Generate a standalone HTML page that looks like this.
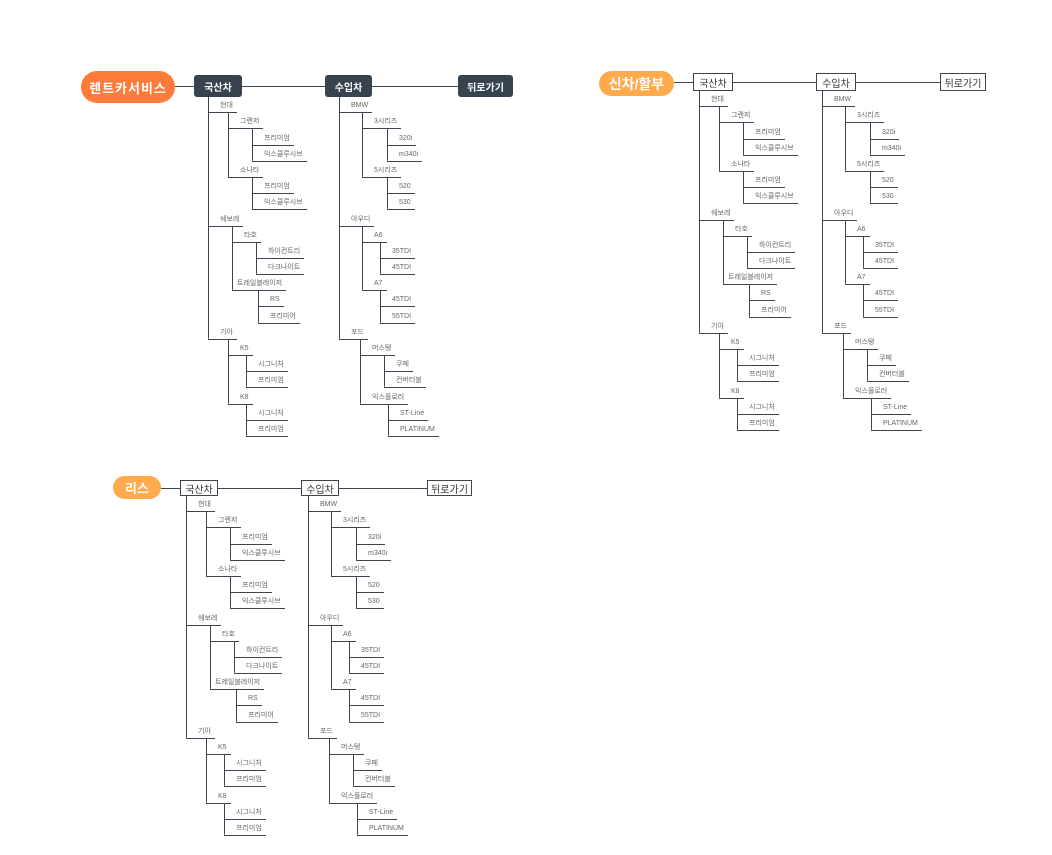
<!DOCTYPE html>
<html><head><meta charset="utf-8">
<style>
body{margin:0;width:1052px;height:855px;background:#fff;position:relative;overflow:hidden;font-family:"Liberation Sans","Noto Sans CJK KR",sans-serif;}
.hl{position:absolute;height:0;border-top:1.2px solid #3a4550;}
.pill{position:absolute;color:#fff;font-weight:bold;display:flex;align-items:center;justify-content:center;border-radius:16px;}
.bd{position:absolute;background:#37434f;color:#fff;font-weight:bold;font-size:10px;display:flex;align-items:center;justify-content:center;border-radius:3px;}
.bw{position:absolute;background:#fff;color:#333;font-size:10px;display:flex;align-items:center;justify-content:center;border:1px solid #3a4550;box-sizing:border-box;}
.c{position:absolute;}
.n{position:relative;}
.n::before{content:"";position:absolute;left:0;top:0;bottom:0;border-left:1.2px solid #3a4550;}
.n:last-child::before{bottom:auto;height:15.2px;border-bottom-left-radius:3px;}
.r{display:flex;align-items:flex-end;width:fit-content;height:16.2px;box-sizing:border-box;padding:0 4px 2px 12px;border-bottom:1.2px solid #3a4550;font-size:7px;line-height:8px;color:#666;white-space:nowrap;}
</style></head><body>

<!-- Tree 1 -->
<div class="hl" style="left:175px;top:86px;width:283px"></div>
<div class="pill" style="left:81px;top:71px;width:94px;height:32px;background:#FF7B3A;font-size:13px;letter-spacing:1px">렌트카서비스</div>
<div class="bd" style="left:194px;top:75px;width:48px;height:22px">국산차</div>
<div class="bd" style="left:325px;top:75px;width:47px;height:22px">수입차</div>
<div class="bd" style="left:458px;top:75px;width:55px;height:22px">뒤로가기</div>

<div class="c" style="left:208px;top:97px">
 <div class="n"><div class="r">현대</div><div style="margin-left:20px">
  <div class="n"><div class="r">그랜저</div><div style="margin-left:24px">
   <div class="n"><div class="r">프리미엄</div></div>
   <div class="n"><div class="r">익스클루시브</div></div></div></div>
  <div class="n"><div class="r">소나타</div><div style="margin-left:24px">
   <div class="n"><div class="r">프리미엄</div></div>
   <div class="n"><div class="r">익스클루시브</div></div></div></div>
 </div></div>
 <div class="n"><div class="r">쉐보레</div><div style="margin-left:24px">
  <div class="n"><div class="r">타호</div><div style="margin-left:24px">
   <div class="n"><div class="r">하이컨트리</div></div>
   <div class="n"><div class="r">다크나이트</div></div></div></div>
  <div class="n"><div class="r" style="padding-left:5px">트레일블레이저</div><div style="margin-left:26px">
   <div class="n"><div class="r">RS</div></div>
   <div class="n"><div class="r">프리미어</div></div></div></div>
 </div></div>
 <div class="n"><div class="r">기아</div><div style="margin-left:20px">
  <div class="n"><div class="r">K5</div><div style="margin-left:18px">
   <div class="n"><div class="r">시그니처</div></div>
   <div class="n"><div class="r">프리미엄</div></div></div></div>
  <div class="n"><div class="r">K8</div><div style="margin-left:18px">
   <div class="n"><div class="r">시그니처</div></div>
   <div class="n"><div class="r">프리미엄</div></div></div></div>
 </div></div>
</div>

<div class="c" style="left:339px;top:97px">
 <div class="n"><div class="r">BMW</div><div style="margin-left:23px">
  <div class="n"><div class="r">3시리즈</div><div style="margin-left:25px">
   <div class="n"><div class="r">320i</div></div>
   <div class="n"><div class="r">m340i</div></div></div></div>
  <div class="n"><div class="r">5시리즈</div><div style="margin-left:25px">
   <div class="n"><div class="r">520</div></div>
   <div class="n"><div class="r">530</div></div></div></div>
 </div></div>
 <div class="n"><div class="r">아우디</div><div style="margin-left:23px">
  <div class="n"><div class="r">A6</div><div style="margin-left:18px">
   <div class="n"><div class="r">35TDI</div></div>
   <div class="n"><div class="r">45TDI</div></div></div></div>
  <div class="n"><div class="r">A7</div><div style="margin-left:18px">
   <div class="n"><div class="r">45TDI</div></div>
   <div class="n"><div class="r">55TDI</div></div></div></div>
 </div></div>
 <div class="n"><div class="r">포드</div><div style="margin-left:21px">
  <div class="n"><div class="r">머스탱</div><div style="margin-left:24px">
   <div class="n"><div class="r">쿠페</div></div>
   <div class="n"><div class="r">컨버터블</div></div></div></div>
  <div class="n"><div class="r">익스플로러</div><div style="margin-left:28px">
   <div class="n"><div class="r">ST-Line</div></div>
   <div class="n"><div class="r">PLATINUM</div></div></div></div>
 </div></div>
</div>

<!-- Tree 2 -->
<div class="hl" style="left:674px;top:82px;width:266px"></div>
<div class="pill" style="left:599px;top:71px;width:75px;height:25px;background:#FFAA4C;font-size:14px;border-radius:13px">신차/할부</div>
<div class="bw" style="left:693px;top:73px;width:40px;height:18px">국산차</div>
<div class="bw" style="left:816px;top:73px;width:40px;height:18px">수입차</div>
<div class="bw" style="left:940px;top:73px;width:46px;height:18px">뒤로가기</div>

<div class="c" style="left:699px;top:91px">
 <div class="n"><div class="r">현대</div><div style="margin-left:20px">
  <div class="n"><div class="r">그랜저</div><div style="margin-left:24px">
   <div class="n"><div class="r">프리미엄</div></div>
   <div class="n"><div class="r">익스클루시브</div></div></div></div>
  <div class="n"><div class="r">소나타</div><div style="margin-left:24px">
   <div class="n"><div class="r">프리미엄</div></div>
   <div class="n"><div class="r">익스클루시브</div></div></div></div>
 </div></div>
 <div class="n"><div class="r">쉐보레</div><div style="margin-left:24px">
  <div class="n"><div class="r">타호</div><div style="margin-left:24px">
   <div class="n"><div class="r">하이컨트리</div></div>
   <div class="n"><div class="r">다크나이트</div></div></div></div>
  <div class="n"><div class="r" style="padding-left:5px">트레일블레이저</div><div style="margin-left:26px">
   <div class="n"><div class="r">RS</div></div>
   <div class="n"><div class="r">프리미어</div></div></div></div>
 </div></div>
 <div class="n"><div class="r">기아</div><div style="margin-left:20px">
  <div class="n"><div class="r">K5</div><div style="margin-left:18px">
   <div class="n"><div class="r">시그니처</div></div>
   <div class="n"><div class="r">프리미엄</div></div></div></div>
  <div class="n"><div class="r">K8</div><div style="margin-left:18px">
   <div class="n"><div class="r">시그니처</div></div>
   <div class="n"><div class="r">프리미엄</div></div></div></div>
 </div></div>
</div>

<div class="c" style="left:822px;top:91px">
 <div class="n"><div class="r">BMW</div><div style="margin-left:23px">
  <div class="n"><div class="r">3시리즈</div><div style="margin-left:25px">
   <div class="n"><div class="r">320i</div></div>
   <div class="n"><div class="r">m340i</div></div></div></div>
  <div class="n"><div class="r">5시리즈</div><div style="margin-left:25px">
   <div class="n"><div class="r">520</div></div>
   <div class="n"><div class="r">530</div></div></div></div>
 </div></div>
 <div class="n"><div class="r">아우디</div><div style="margin-left:23px">
  <div class="n"><div class="r">A6</div><div style="margin-left:18px">
   <div class="n"><div class="r">35TDI</div></div>
   <div class="n"><div class="r">45TDI</div></div></div></div>
  <div class="n"><div class="r">A7</div><div style="margin-left:18px">
   <div class="n"><div class="r">45TDI</div></div>
   <div class="n"><div class="r">55TDI</div></div></div></div>
 </div></div>
 <div class="n"><div class="r">포드</div><div style="margin-left:21px">
  <div class="n"><div class="r">머스탱</div><div style="margin-left:24px">
   <div class="n"><div class="r">쿠페</div></div>
   <div class="n"><div class="r">컨버터블</div></div></div></div>
  <div class="n"><div class="r">익스플로러</div><div style="margin-left:28px">
   <div class="n"><div class="r">ST-Line</div></div>
   <div class="n"><div class="r">PLATINUM</div></div></div></div>
 </div></div>
</div>

<!-- Tree 3 -->
<div class="hl" style="left:161px;top:488px;width:266px"></div>
<div class="pill" style="left:113px;top:476px;width:48px;height:23px;background:#FFAA4C;font-size:13px;border-radius:12px">리스</div>
<div class="bw" style="left:180px;top:480px;width:38px;height:16px">국산차</div>
<div class="bw" style="left:301px;top:480px;width:38px;height:16px">수입차</div>
<div class="bw" style="left:427px;top:480px;width:45px;height:16px">뒤로가기</div>

<div class="c" style="left:186px;top:496px">
 <div class="n"><div class="r">현대</div><div style="margin-left:20px">
  <div class="n"><div class="r">그랜저</div><div style="margin-left:24px">
   <div class="n"><div class="r">프리미엄</div></div>
   <div class="n"><div class="r">익스클루시브</div></div></div></div>
  <div class="n"><div class="r">소나타</div><div style="margin-left:24px">
   <div class="n"><div class="r">프리미엄</div></div>
   <div class="n"><div class="r">익스클루시브</div></div></div></div>
 </div></div>
 <div class="n"><div class="r">쉐보레</div><div style="margin-left:24px">
  <div class="n"><div class="r">타호</div><div style="margin-left:24px">
   <div class="n"><div class="r">하이컨트리</div></div>
   <div class="n"><div class="r">다크나이트</div></div></div></div>
  <div class="n"><div class="r" style="padding-left:5px">트레일블레이저</div><div style="margin-left:26px">
   <div class="n"><div class="r">RS</div></div>
   <div class="n"><div class="r">프리미어</div></div></div></div>
 </div></div>
 <div class="n"><div class="r">기아</div><div style="margin-left:20px">
  <div class="n"><div class="r">K5</div><div style="margin-left:18px">
   <div class="n"><div class="r">시그니처</div></div>
   <div class="n"><div class="r">프리미엄</div></div></div></div>
  <div class="n"><div class="r">K8</div><div style="margin-left:18px">
   <div class="n"><div class="r">시그니처</div></div>
   <div class="n"><div class="r">프리미엄</div></div></div></div>
 </div></div>
</div>

<div class="c" style="left:308px;top:496px">
 <div class="n"><div class="r">BMW</div><div style="margin-left:23px">
  <div class="n"><div class="r">3시리즈</div><div style="margin-left:25px">
   <div class="n"><div class="r">320i</div></div>
   <div class="n"><div class="r">m340i</div></div></div></div>
  <div class="n"><div class="r">5시리즈</div><div style="margin-left:25px">
   <div class="n"><div class="r">520</div></div>
   <div class="n"><div class="r">530</div></div></div></div>
 </div></div>
 <div class="n"><div class="r">아우디</div><div style="margin-left:23px">
  <div class="n"><div class="r">A6</div><div style="margin-left:18px">
   <div class="n"><div class="r">35TDI</div></div>
   <div class="n"><div class="r">45TDI</div></div></div></div>
  <div class="n"><div class="r">A7</div><div style="margin-left:18px">
   <div class="n"><div class="r">45TDI</div></div>
   <div class="n"><div class="r">55TDI</div></div></div></div>
 </div></div>
 <div class="n"><div class="r">포드</div><div style="margin-left:21px">
  <div class="n"><div class="r">머스탱</div><div style="margin-left:24px">
   <div class="n"><div class="r">쿠페</div></div>
   <div class="n"><div class="r">컨버터블</div></div></div></div>
  <div class="n"><div class="r">익스플로러</div><div style="margin-left:28px">
   <div class="n"><div class="r">ST-Line</div></div>
   <div class="n"><div class="r">PLATINUM</div></div></div></div>
 </div></div>
</div>

</body></html>
